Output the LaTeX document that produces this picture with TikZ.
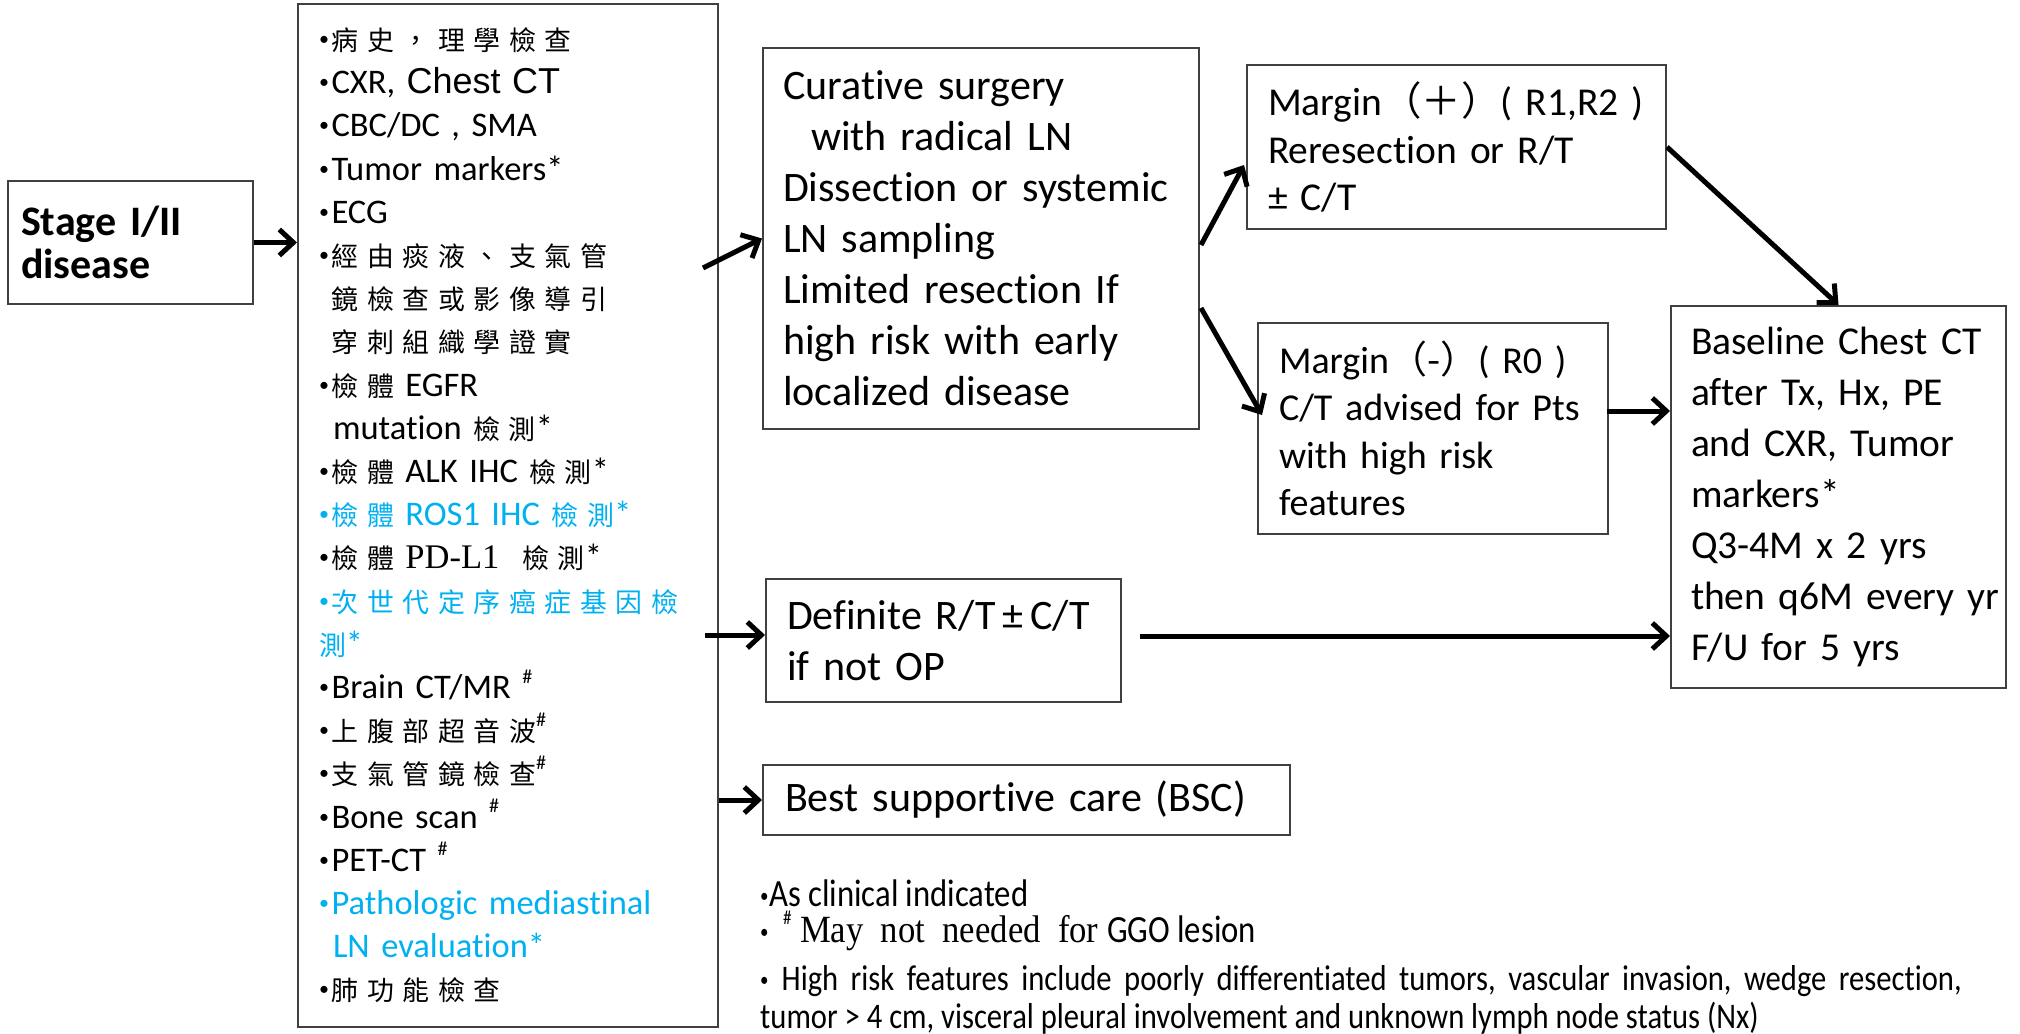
\documentclass[tikz,border=0pt]{standalone}
\usepackage{fontspec}
\setmainfont[Ligatures=NoCommon]{Carlito}
\newfontfamily\cjk[Scale=0.78,LetterSpace=32]{Noto Sans CJK TC}
\newfontfamily\cjkn{Noto Sans CJK TC}
\newfontfamily\arialf{Liberation Sans}
\newfontfamily\serifr{Liberation Serif}
\newfontfamily\narrow[FakeStretch=0.85,Ligatures=NoCommon]{Carlito}
\newfontfamily\narrowserif[FakeStretch=0.9]{Liberation Serif}
\usetikzlibrary{arrows.meta}
\definecolor{lblue}{HTML}{00B0F0}
\definecolor{boxc}{HTML}{404040}
\newcommand\bul{\makebox[12.5pt][l]{\raisebox{5pt}{\fontsize{20}{20}\selectfont •}}}
\newcommand\fbul{\makebox[9pt][l]{\raisebox{4pt}{\fontsize{20}{20}\selectfont •}}}
\newcommand\hsup{\raisebox{0.45em}{\fontsize{20}{20}\selectfont\#}}
\begin{document}
\begin{tikzpicture}[x=1pt,y=-1pt,
  box/.style={draw=boxc, line width=2pt, anchor=north west, inner ysep=0pt, align=left,
    execute at begin node={\hyphenpenalty=10000\exhyphenpenalty=10000}},
  arr/.style={line width=5pt, -{Straight Barb[length=14pt,width=26pt]}},
  foot/.style={anchor=west, inner sep=0pt, font=\narrow\fontsize{36}{37}\selectfont}]
\useasboundingbox (0,0) rectangle (2020,1033);

\node[box, inner xsep=13pt, text width=219pt, minimum height=123pt,
  font=\fontsize{42}{43}\selectfont\bfseries] (stage) at (7,180) {Stage~I/II\\disease};

\node[box, inner xsep=21pt, text width=378pt, minimum height=1023pt,
  font=\fontsize{34.5}{43.2}\selectfont] (list) at (297,3) {%
\bul{\cjk 病史，理學檢查}\\
\bul CXR, {\arialf\fontsize{36}{43}\selectfont Chest~CT}\\
\bul CBC/DC~,~SMA\\
\bul Tumor~markers*\\
\bul ECG\\
\bul{\cjk 經由痰液、支氣管}\\
\hspace*{12.5pt}{\cjk 鏡檢查或影像導引}\\
\hspace*{12.5pt}{\cjk 穿刺組織學證實}\\
\bul{\cjk 檢體}~EGFR\\
\hspace*{14pt}mutation~{\cjk 檢測}*\\
\bul{\cjk 檢體}~ALK~IHC~{\cjk 檢測}*\\
{\color{lblue}\bul{\cjk 檢體}~ROS1~IHC~{\cjk 檢測}*}\\
\bul{\cjk 檢體}~{\serifr PD-L1}~~{\cjk 檢測}*\\
{\color{lblue}\bul{\cjk 次世代定序癌症基因檢}}\\
{\color{lblue}{\cjk 測}*}\\
\bul Brain~CT/MR~\hsup\\
\bul{\cjk 上腹部超音波}\hsup\\
\bul{\cjk 支氣管鏡檢查}\hsup\\
\bul Bone~scan~\hsup\\
\bul PET-CT~\hsup\\
{\color{lblue}\bul Pathologic~mediastinal}\\
{\color{lblue}\hspace*{14pt}LN~evaluation*}\\
\bul{\cjk 肺功能檢查}};

\node[box, inner xsep=20pt, text width=396pt, minimum height=381pt,
  font=\fontsize{42}{51}\selectfont] (cur) at (762,47) {%
Curative~surgery\\
\hspace*{28pt}with~radical~LN\\
Dissection~or~systemic\\
LN~sampling\\
Limited~resection~If\\
high~risk~with~early\\
localized~disease};

\node[box, inner xsep=21pt, text width=377pt, minimum height=164pt,
  font=\fontsize{39.5}{47.5}\selectfont] (margp) at (1246,64) {%
Margin{\cjkn （＋）}(~R1,R2~)\\
Reresection~or~R/T\\
±~C/T};

\node[box, inner xsep=21pt, text width=308pt, minimum height=211pt,
  font=\fontsize{38}{47.5}\selectfont] (margm) at (1257,322) {%
Margin{\cjkn （-）}(~R0~)\\
C/T~advised~for~Pts\\
with~high~risk\\
features};

\node[box, inner xsep=20pt, text width=295pt, minimum height=382pt,
  font=\fontsize{39.5}{51}\selectfont] (base) at (1670,305) {%
Baseline~Chest~CT\\
after~Tx,~Hx,~PE\\
and~CXR,~Tumor\\
markers*\\
Q3-4M~x~2~yrs\\
then~q6M~every~yr\\
F/U~for~5~yrs};

\node[box, inner xsep=21pt, text width=313pt, minimum height=123pt,
  font=\fontsize{42}{51}\selectfont] (def) at (765,578) {%
Definite~R/T\,±\,C/T\\
if~not~OP};

\node[box, inner xsep=22pt, text width=483pt, minimum height=70pt,
  font=\fontsize{42}{51}\selectfont] (bsc) at (762,764) {%
Best~supportive~care~(BSC)};

\node[foot, font=\narrow\fontsize{38.5}{37}\selectfont] (fn1) at (760,893) {\fbul As clinical indicated};
\node[foot, font=\narrow\fontsize{38.5}{37}\selectfont] (fn2) at (760,931) {\fbul\ \,\hsup{\narrowserif\ May~~not~~needed~~for~}GGO lesion};
\node[foot] (fn3) at (760,981) {\spaceskip=12.5pt\relax\fbul\ High risk features include poorly differentiated tumors, vascular invasion, wedge resection,};
\node[foot] (fn4) at (760,1018) {tumor > 4 cm, visceral pleural involvement and unknown lymph node status (Nx)};

\coordinate (l1) at (703,268);
\coordinate (l2) at (705,635);
\coordinate (cu1) at (1201,245);
\coordinate (mp1) at (1244,165);
\coordinate (cu2) at (1201,308);
\coordinate (mm1) at (1262,415);
\coordinate (mm2) at (1607,411);
\coordinate (d1) at (1140,636);

\draw[arr] (stage.east) -- (stage.east -| list.west);
\draw[arr] (l1) -- (cur.west);
\draw[arr] (l2) -- (l2 -| def.west);
\draw[arr] (bsc.west -| list.east) -- (bsc.west);
\draw[arr] (cu1) -- (mp1);
\draw[arr] (cu2) -- (mm1);
\draw[arr] (margp.east) -- (base.north);
\draw[arr] (mm2) -- (mm2 -| base.west);
\draw[arr] (d1) -- (d1 -| base.west);
\end{tikzpicture}
\end{document}
